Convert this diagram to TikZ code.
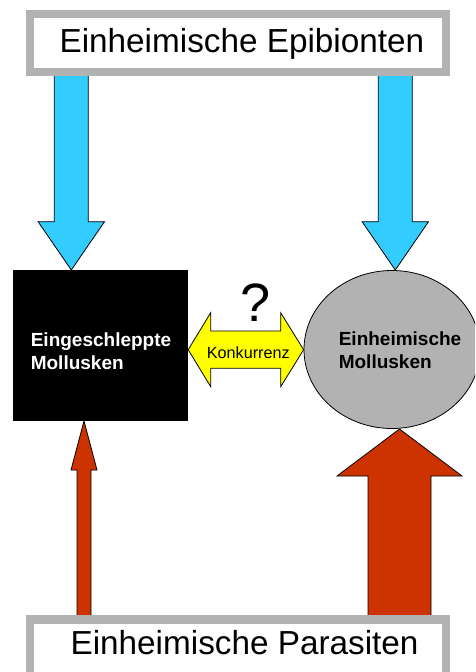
\documentclass[tikz,border=0pt]{standalone}
\usepackage{fontspec}
\setmainfont{Liberation Sans}
\usetikzlibrary{shapes.geometric}
\definecolor{skyblue}{HTML}{33CCFF}
\definecolor{rust}{HTML}{CC3300}
\definecolor{lgray}{HTML}{B2B2B2}
\definecolor{yel}{HTML}{FFFF00}
% #1 style, #2 x centre, #3 tail y, #4 head base y, #5 tip y, #6 shaft half width, #7 head half width
\newcommand{\vblockarrow}[7]{%
  \draw[#1] (#2-#6,#3) -- (#2-#6,#4) -- (#2-#7,#4) -- (#2,#5) -- (#2+#7,#4)
    -- (#2+#6,#4) -- (#2+#6,#3) -- cycle;}
\begin{document}
\begin{tikzpicture}[x=1pt,y=-1pt,
  outline/.style={draw=black, line width=0.8pt, line join=miter},
  bluearrow/.style={outline, fill=skyblue},
  redarrow/.style={outline, fill=rust},
  titlebox/.style={draw=lgray, line width=8.5pt, fill=white, minimum width=416pt,
    minimum height=57.6pt, inner sep=0pt},
  titletext/.style={anchor=base west, inner sep=0pt, font=\fontsize{33.3}{40}\selectfont},
  molltext/.style={anchor=base west, inner sep=0pt, align=left,
    font=\fontsize{19}{23}\selectfont\bfseries}]
\clip (0,0) rectangle (475,672);
\fill[white] (0,0) rectangle (475,672);
% arrows from the source boxes
\vblockarrow{bluearrow}{71.3}{70}{221.7}{270}{17}{33.2}
\vblockarrow{bluearrow}{395.3}{70}{221.7}{270}{17}{33.2}
\vblockarrow{redarrow}{84}{622}{470}{421}{7}{13}
\vblockarrow{redarrow}{399.5}{622}{476}{429}{31.5}{62.5}
% boxes
\node[titlebox] (epi) at (238,43) {};
\node[titletext] (epitext) at (59.4,52) {Einheimische Epibionten};
\node[titlebox, minimum height=80pt] (par) at (237.9,659.5) {};
\node[titletext] (partext) at (70.4,654) {Einheimische Parasiten};
% molluscs
\node[fill=black, minimum width=175pt, minimum height=151pt, inner sep=0pt] (eing) at (100.5,345.5) {};
\node[molltext, text=white] (eingtext) at (30.6,369) {Eingeschleppte\\Mollusken};
\node[ellipse, outline, fill=lgray, minimum width=176pt, minimum height=158pt, inner sep=0pt] (einh) at (392,349.5) {};
\node[molltext, text=black] (einhtext) at (338.6,368.3) {Einheimische\\Mollusken};
% competition arrow
\draw[outline, fill=yel] (eing.east |- 0,349.7) -- (210.7,312.7) -- (210.7,331) -- (280.7,331)
  -- (280.7,312.7) -- (einh.west |- 0,349.7) -- (280.7,386.7) -- (280.7,368.3)
  -- (210.7,368.3) -- (210.7,386.7) -- cycle;
\node[anchor=base, inner sep=0pt, font=\fontsize{16.2}{19}\selectfont] (konk) at (248.3,358.3) {Konkurrenz};
\node[anchor=base, inner sep=0pt, font=\fontsize{54}{60}\selectfont] (q) at (255.3,321.7) {?};
\end{tikzpicture}
\end{document}
